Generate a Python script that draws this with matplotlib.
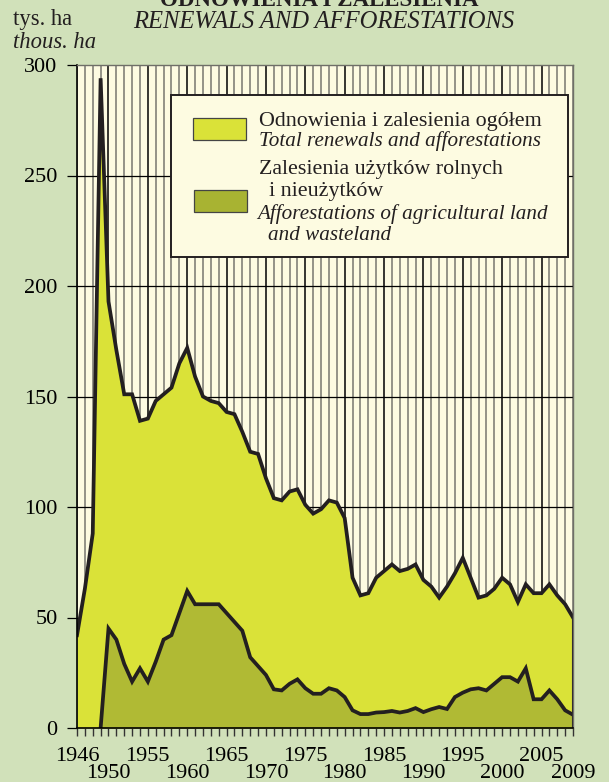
import numpy as np
import matplotlib
matplotlib.use("Agg")
import matplotlib.pyplot as plt
from matplotlib.patches import Rectangle

plt.rcParams['font.family'] = ['Liberation Serif', 'DejaVu Serif']

years = np.arange(1946, 2010)
total = [42, 63, 88, 294, 193, 171, 151, 151, 139, 140,
         148, 151, 154, 165, 172, 159, 150, 148, 147, 143,
         142, 134, 125, 124, 113, 104, 103, 107, 108, 101,
         97, 99, 103, 102, 95, 68, 60, 61, 68, 71,
         74, 71, 72, 74, 67, 64, 59, 64, 70, 77,
         68, 59, 60, 63, 68, 65, 57, 65, 61, 61,
         65, 60, 56, 50]
nan = np.nan
agricultural = [nan, nan, nan, 0, 45, 40, 29, 21, 27, 21,
                30, 40, 42, 52, 62, 56, 56, 56, 56, 52,
                48, 44, 32, 28, 24, 17.5, 17, 20, 22, 18,
                15.5, 15.5, 18, 17, 14, 8, 6.3, 6.3, 7, 7.2,
                7.7, 7, 7.7, 9, 7.2, 8.5, 9.5, 8.6, 14, 16,
                17.5, 18, 17, 20, 23, 23, 21, 27, 13, 13,
                17, 13, 8, 6]
yticks = [0, 50, 100, 150, 200, 250, 300]
upper_labels = [1946, 1955, 1965, 1975, 1985, 1995, 2005]
lower_labels = [1950, 1960, 1970, 1980, 1990, 2000, 2009]

legend_lines = [
    ("Odnowienia i zalesienia ogółem", "normal", 0.0),
    ("Total renewals and afforestations", "italic", 0.0),
    ("Zalesienia użytków rolnych", "normal", 0.0),
    ("i nieużytków", "normal", 0.02),
    ("Afforestations of agricultural land", "italic", -0.004),
    ("and wasteland", "italic", 0.018),
]

bg = '#d1e1ba'
cream = '#fdfbe1'
c_total = '#dae238'
c_agri = '#b0ba34'
ink = '#231f20'

fig = plt.figure(figsize=(6.09, 7.82), dpi=100, facecolor=bg)
ax = fig.add_axes([77 / 609, 1 - 728 / 782, 496 / 609, 663 / 782])
ax.set_facecolor(cream)

# grid: a line every year, black every fifth
for y in years:
    c = 'black' if y % 5 == 0 else '#77776f'
    ax.axvline(y, color=c, lw=1.1, zorder=1)
for v in yticks[1:-1]:
    ax.axhline(v, color='black', lw=0.9, zorder=1)

tot = np.array(total, dtype=float)
agr = np.array(agricultural, dtype=float)
ax.fill_between(years, 0, tot, color=c_total, lw=0, zorder=2)
ax.fill_between(years, 0, agr, color=c_agri, lw=0, zorder=3)
ax.plot(years, tot, color=ink, lw=2.7, zorder=4, solid_joinstyle='miter')
ax.plot(years, agr, color=ink, lw=2.7, zorder=4, solid_joinstyle='miter')
ax.vlines(years[-1], 0, tot[-1], color=ink, lw=1.5, zorder=4)

ax.set_xlim(1946, 2009)
ax.set_ylim(0, 300)
ax.set_xticks(years)
ax.set_xticklabels([])
ax.set_yticks(yticks)
ax.tick_params(axis='x', direction='out', length=6, width=1.0, color='#333333')
ax.tick_params(axis='y', direction='out', length=7, width=0.9, color='black',
               labelsize=16, pad=7)
for s in ['left', 'bottom']:
    ax.spines[s].set_color('black')
    ax.spines[s].set_linewidth(1.2)
for s in ['top', 'right']:
    ax.spines[s].set_color('#6f6f68')
    ax.spines[s].set_linewidth(1.0)
for s in ax.spines.values():
    s.set_zorder(5)

xt = ax.get_xaxis_transform()
for y in upper_labels:
    ax.text(y, -0.0495, str(y), transform=xt, ha='center', va='baseline', fontsize=16)
for y in lower_labels:
    ax.text(y, -0.0755, str(y), transform=xt, ha='center', va='baseline', fontsize=16)

# legend box
ax.add_patch(Rectangle((0.1895, 0.7104), 0.8005, 0.2444, transform=ax.transAxes,
                       facecolor=cream, edgecolor=ink, lw=1.4, zorder=6))
ax.add_patch(Rectangle((0.2339, 0.8869), 0.1069, 0.0332, transform=ax.transAxes,
                       facecolor=c_total, edgecolor='#444444', lw=0.9, zorder=7))
ax.add_patch(Rectangle((0.2359, 0.7783), 0.1069, 0.0332, transform=ax.transAxes,
                       facecolor='#a8b332', edgecolor='#444444', lw=0.9, zorder=7))
baselines = [126, 146, 174, 196, 219, 240]
for (txt, style, dx), b in zip(legend_lines, baselines):
    size = 15.2 if style == 'italic' else 15.8
    ax.text(0.3669 + dx, (728 - b) / 663, txt, transform=ax.transAxes,
            ha='left', va='baseline', fontsize=size, style=style, color=ink, zorder=8)

# titles and unit
fig.text(0.525, 1 - 6 / 782, "ODNOWIENIA I ZALESIENIA", ha='center', va='baseline',
         fontsize=16.5, fontweight='bold', color=ink)
fig.text(0.531, 1 - 28 / 782, "RENEWALS AND AFFORESTATIONS", ha='center', va='baseline',
         fontsize=17.7, style='italic', color=ink)
fig.text(13 / 609, 1 - 25 / 782, "tys. ha", ha='left', va='baseline', fontsize=16.3, color=ink)
fig.text(13 / 609, 1 - 48 / 782, "thous. ha", ha='left', va='baseline', fontsize=16.3,
         style='italic', color=ink)

fig.savefig("out.png", dpi=100, facecolor=bg)
